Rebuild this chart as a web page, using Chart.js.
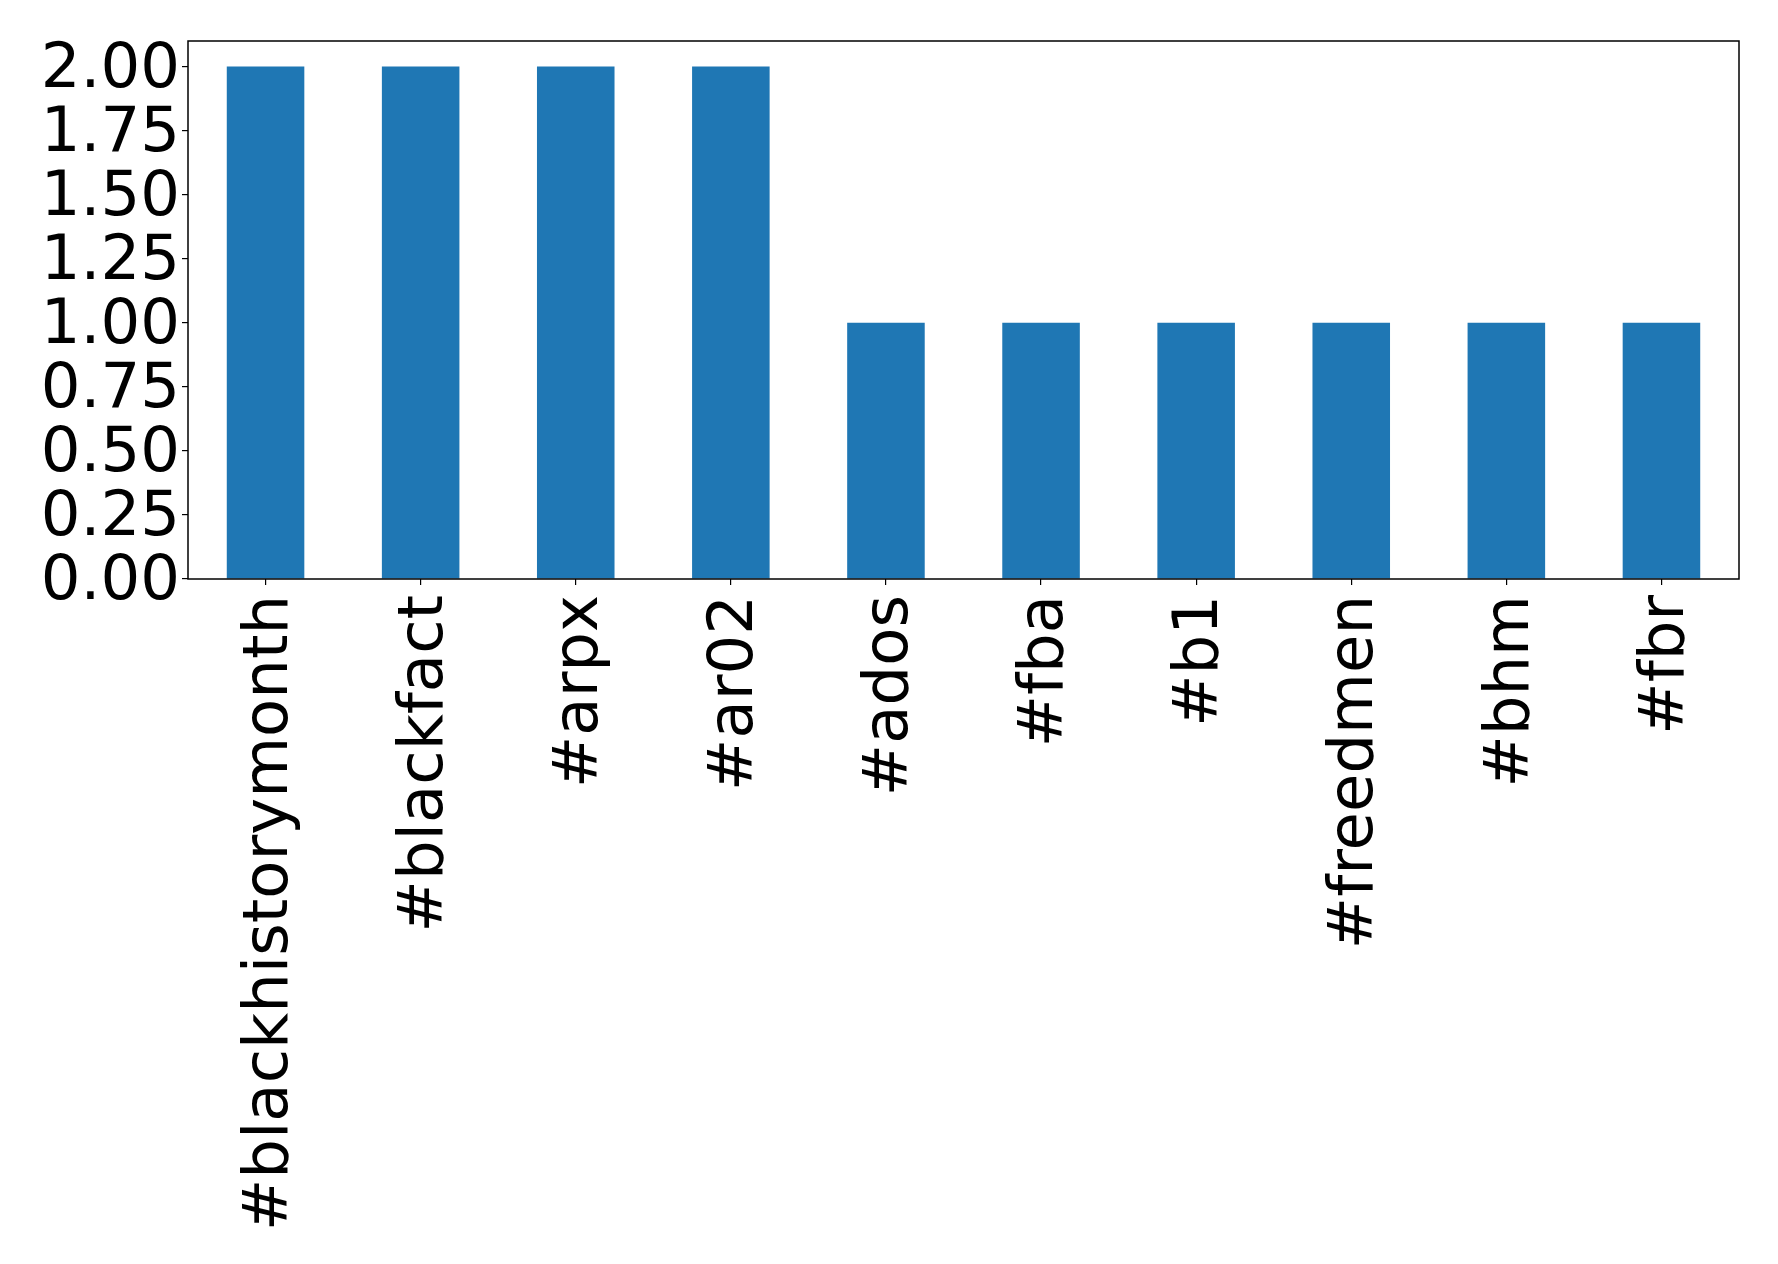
<!DOCTYPE html>
<html>
<head>
<meta charset="utf-8">
<title>Hashtags</title>
<script src="https://cdn.jsdelivr.net/npm/chart.js@4.4.1/dist/chart.umd.min.js"></script>
<style>
  html, body { margin: 0; padding: 0; background: #ffffff; }
  canvas { display: block; }
</style>
</head>
<body>
<canvas id="chart" width="1778" height="1264"></canvas>
<script>
// Datos.
const hashtags = ['#blackhistorymonth', '#blackfact', '#arpx', '#ar02', '#ados', '#fba', '#b1', '#freedmen', '#bhm', '#fbr'];
const counts = [2, 2, 2, 2, 1, 1, 1, 1, 1, 1];
const yTickValues = [0, 0.25, 0.5, 0.75, 1, 1.25, 1.5, 1.75, 2];
const yMax = 2.1;

// Marco completo alrededor del area del grafico (estilo matplotlib).
const frameBoxPlugin = {
  id: 'frameBoxPlugin',
  afterDraw(chart) {
    const area = chart.chartArea;
    const ctx = chart.ctx;
    ctx.save();
    ctx.strokeStyle = '#000000';
    ctx.lineWidth = 1.5;
    ctx.strokeRect(area.left, area.top, area.right - area.left, area.bottom - area.top);
    ctx.restore();
  }
};

const canvas = document.getElementById('chart');

new Chart(canvas, {
  type: 'bar',
  data: {
    labels: hashtags,
    datasets: [{
      data: counts,
      backgroundColor: '#1f77b4',
      borderWidth: 0,
      barPercentage: 0.5,
      categoryPercentage: 1.0
    }]
  },
  options: {
    responsive: false,
    animation: false,
    layout: { padding: { top: 41, right: 39, left: 0, bottom: 0 } },
    plugins: {
      legend: { display: false },
      tooltip: { enabled: false }
    },
    scales: {
      x: {
        grid: {
          display: true,
          offset: false,
          drawOnChartArea: false,
          drawTicks: true,
          tickLength: 6,
          color: '#000000',
          lineWidth: 1.2
        },
        border: { display: false },
        ticks: {
          autoSkip: false,
          minRotation: 90,
          maxRotation: 90,
          padding: 10,
          labelOffset: 5,
          color: '#000000',
          font: { family: 'DejaVu Sans', size: 62.5 }
        },
        afterFit(scale) {
          scale.height = 1264 - 579;
        }
      },
      y: {
        min: 0,
        max: yMax,
        grid: {
          display: true,
          drawOnChartArea: false,
          drawTicks: true,
          tickLength: 6,
          color: '#000000',
          lineWidth: 1.2
        },
        border: { display: false },
        ticks: {
          autoSkip: false,
          padding: 2,
          labelOffset: 4,
          color: '#000000',
          font: { family: 'DejaVu Sans', size: 62.5 },
          callback: (value) => Number(value).toFixed(2)
        },
        afterBuildTicks(scale) {
          scale.ticks = yTickValues.map((v) => ({ value: v }));
        },
        afterFit(scale) {
          scale.width = 188;
        }
      }
    }
  },
  plugins: [frameBoxPlugin]
});
</script>
</body>
</html>
